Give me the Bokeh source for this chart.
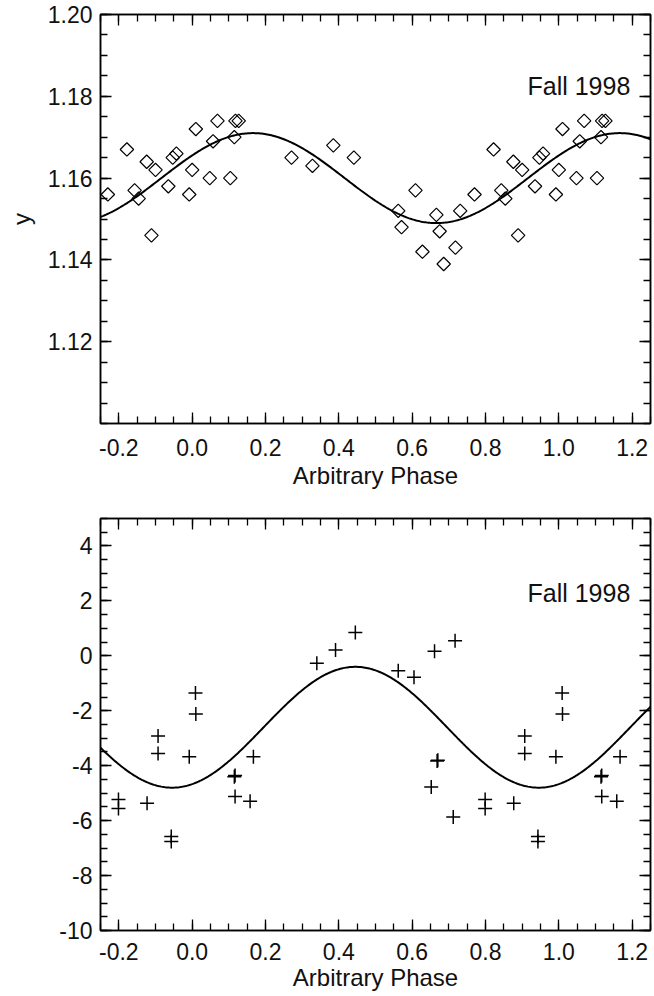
import numpy as np
from bokeh.plotting import figure
from bokeh.models import (LinearAxis, FixedTicker, PrintfTickFormatter, Label, Range1d,
                          CustomLabelingPolicy)
from bokeh.layouts import column
from bokeh.embed import file_html
from bokeh.resources import INLINE

# ---------------- data (phase in [0,1), shown repeated over -0.25..1.25) ----------------
top_phase = [0.000, 0.010, 0.048, 0.057, 0.069, 0.104, 0.115, 0.118, 0.127,
             0.271, 0.328, 0.385, 0.441, 0.562, 0.571, 0.609, 0.628, 0.666,
             0.675, 0.686, 0.718, 0.731, 0.770, 0.822, 0.843, 0.854, 0.876,
             0.889, 0.900, 0.935, 0.947, 0.957, 0.992]
top_y = [1.162, 1.172, 1.160, 1.169, 1.174, 1.160, 1.170, 1.174, 1.174,
         1.165, 1.163, 1.168, 1.165, 1.152, 1.148, 1.157, 1.142, 1.151,
         1.147, 1.139, 1.143, 1.152, 1.156, 1.167, 1.157, 1.155, 1.164,
         1.146, 1.162, 1.158, 1.165, 1.166, 1.156]

bot_phase = [0.009, 0.010, 0.115, 0.117, 0.117, 0.158, 0.167, 0.340, 0.391,
             0.445, 0.562, 0.605, 0.652, 0.661, 0.668, 0.670, 0.712, 0.717,
             0.799, 0.799, 0.877, 0.907, 0.907, 0.943, 0.943, 0.992]
bot_y = [-1.35, -2.12, -4.40, -4.36, -5.12, -5.29, -3.67, -0.27, 0.21,
         0.85, -0.54, -0.78, -4.78, 0.17, -3.83, -3.80, -5.87, 0.55,
         -5.23, -5.56, -5.37, -2.92, -3.56, -6.58, -6.76, -3.67]

# sinusoidal fits (mean, amplitude, phase of maximum)
top_fit = {"mean": 1.160, "amp": 0.011, "peak": 0.166}
bot_fit = {"mean": -2.60, "amp": 2.20, "peak": 0.445}

x_ticks = [-0.2, 0.0, 0.2, 0.4, 0.6, 0.8, 1.0, 1.2]
top_y_ticks = [1.12, 1.14, 1.16, 1.18, 1.20]
bot_y_ticks = [-10, -8, -6, -4, -2, 0, 2, 4]
x_title = "Arbitrary Phase"
top_y_title = "y"
season = "Fall 1998"

X_RANGE = (-0.25, 1.25)
TOP_RANGE = (1.10, 1.20)
BOT_RANGE = (-10, 5)

FONT = "Liberation Sans"
INK = "#111111"
TICK_SIZE = "23px"

HIDE_ALL = CustomLabelingPolicy(code="for (const i of indices) { indices.unset(i) }\nreturn indices")


def wrap(phases, values):
    xs, ys = [], []
    for s in (-1, 0, 1):
        for ph, v in zip(phases, values):
            xx = ph + s
            if X_RANGE[0] <= xx <= X_RANGE[1]:
                xs.append(xx)
                ys.append(v)
    return xs, ys


def fit_curve(fit):
    xx = np.linspace(X_RANGE[0], X_RANGE[1], 400)
    yy = fit["mean"] + fit["amp"] * np.cos(2 * np.pi * (xx - fit["peak"]))
    return xx, yy


def dress(ax, ticks, minors, fmt, labels=True, standoff=10):
    ax.ticker = FixedTicker(ticks=ticks, minor_ticks=minors)
    ax.formatter = PrintfTickFormatter(format=fmt)
    ax.major_tick_in = 11
    ax.major_tick_out = 0
    ax.minor_tick_in = 7
    ax.minor_tick_out = 0
    ax.axis_line_color = "black"
    ax.axis_line_width = 1.5
    ax.major_tick_line_color = "black"
    ax.minor_tick_line_color = "black"
    ax.major_tick_line_width = 1.3
    ax.minor_tick_line_width = 1.3
    ax.major_label_text_font = FONT
    ax.major_label_text_font_size = TICK_SIZE
    ax.major_label_text_color = INK
    ax.major_label_standoff = standoff
    ax.axis_label_text_font = FONT
    ax.axis_label_text_font_size = "24px"
    ax.axis_label_text_font_style = "normal"
    ax.axis_label_text_color = INK
    if not labels:
        ax.major_label_policy = HIDE_ALL
        ax.major_label_text_font_size = "0px"
        ax.major_label_standoff = 0


x_minor = list(np.round(np.arange(-0.25, 1.2501, 0.05), 3))
top_minor = list(np.round(np.arange(1.10, 1.2001, 0.005), 4))
bot_minor = list(np.round(np.arange(-10, 5.01, 0.5), 2))


def make_panel(height, top_border, bottom_border, yr, yticks, yminor, yfmt, ylabel,
               xstand, alstand):
    p = figure(width=654, height=height, output_backend="svg", toolbar_location=None,
               x_range=Range1d(*X_RANGE), y_range=Range1d(*yr),
               min_border_left=100, min_border_right=4, min_border_top=top_border,
               min_border_bottom=bottom_border)
    p.grid.visible = False
    p.outline_line_color = "black"
    p.outline_line_width = 1.5
    p.background_fill_color = "white"
    p.border_fill_color = "white"
    dress(p.xaxis[0], x_ticks, x_minor, "%.1f", standoff=xstand)
    p.xaxis[0].axis_label = x_title
    p.xaxis[0].axis_label_standoff = alstand
    dress(p.yaxis[0], yticks, yminor, yfmt, standoff=8)
    if ylabel:
        p.yaxis[0].axis_label = ylabel
        p.yaxis[0].axis_label_standoff = 10
    top_ax = LinearAxis()
    dress(top_ax, x_ticks, x_minor, "%.1f", labels=False)
    p.add_layout(top_ax, "above")
    right_ax = LinearAxis()
    dress(right_ax, yticks, yminor, yfmt, labels=False)
    p.add_layout(right_ax, "right")
    return p


# ---------------- top panel ----------------
p1 = make_panel(513, 14, 90, TOP_RANGE, top_y_ticks, top_minor, "%.2f", top_y_title, 15, 3)
cx, cy = fit_curve(top_fit)
p1.line(cx, cy, line_color="black", line_width=2)
tx, ty = wrap(top_phase, top_y)
p1.scatter(tx, ty, marker="square", size=9.5, angle=np.pi / 4,
           fill_color=None, line_color="black", line_width=1.2)
p1.add_layout(Label(x=1.195, y=1.1824, text=season, text_align="right",
                    text_baseline="middle", text_font=FONT, text_font_size="25px",
                    text_color=INK))

# ---------------- bottom panel ----------------
p2 = make_panel(483, 5, 66, BOT_RANGE, bot_y_ticks, bot_minor, "%d", None, 12, 1)
cx, cy = fit_curve(bot_fit)
p2.line(cx, cy, line_color="black", line_width=2)
bx, by = wrap(bot_phase, bot_y)
p2.scatter(bx, by, marker="cross", size=14, line_color="black", line_width=1.5)
p2.add_layout(Label(x=1.195, y=2.27, text=season, text_align="right",
                    text_baseline="middle", text_font=FONT, text_font_size="25px",
                    text_color=INK))

layout = column(p1, p2, spacing=0)
open("out.html", "w").write(file_html(layout, INLINE))
